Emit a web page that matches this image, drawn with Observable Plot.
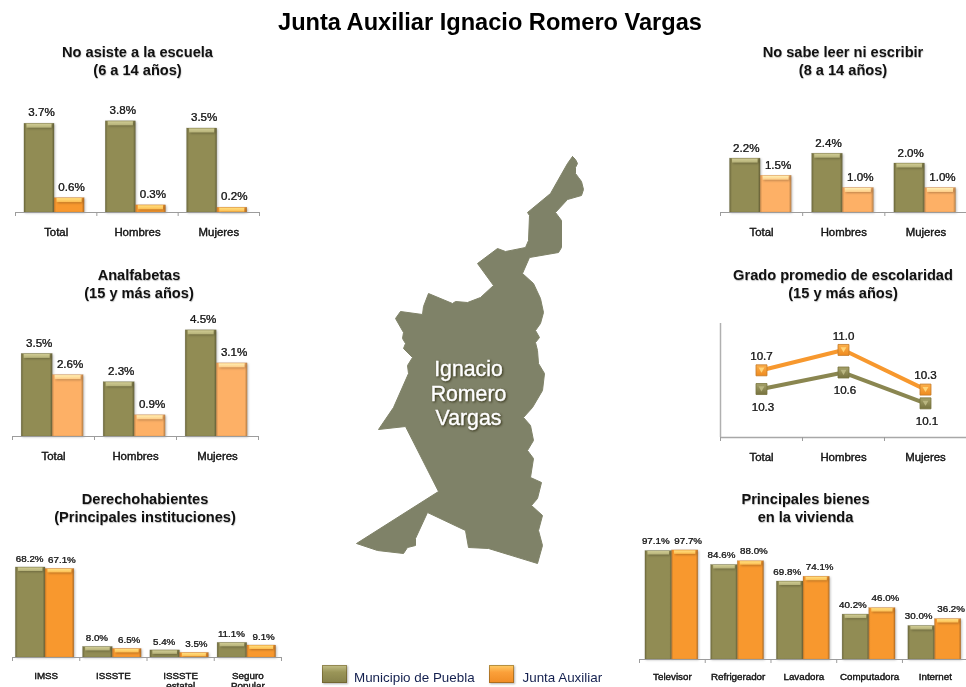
<!DOCTYPE html>
<html lang="es">
<head>
<meta charset="utf-8">
<script src="https://cdn.jsdelivr.net/npm/d3@7"></script>
<script src="https://cdn.jsdelivr.net/npm/@observablehq/plot@0.6"></script>
<style>
html,body{margin:0;padding:0;background:#fff;overflow:hidden}
#page{position:relative;width:966px;height:687px;overflow:hidden;font-family:"Liberation Sans",Arial,sans-serif;filter:blur(.4px)}
.h{position:absolute;text-align:center;font-weight:bold;color:#111;width:320px;font-size:14.6px;line-height:18px;text-shadow:.5px .5px 1px rgba(0,0,0,.25)}
#title{position:absolute;left:0;width:980px;top:8px;text-align:center;font-weight:bold;font-size:23.6px;line-height:28px;color:#000}
.sw{position:absolute;width:25px;height:18px;top:665px;box-shadow:inset 0 0 0 1px rgba(90,70,20,.45),1px 1px 2px rgba(0,0,0,.3)}
.lg{position:absolute;top:670px;font-size:13.4px;line-height:16px;color:#14204f}
#page svg{position:absolute;overflow:visible}
svg g[aria-label="rect"]{filter:drop-shadow(1px 1px 1px rgba(0,0,0,.25))}
svg g[aria-label="text"]{stroke:#1a1a1a;stroke-width:.22px;filter:drop-shadow(.4px .4px .5px rgba(0,0,0,.35))}
svg g[aria-label="x-axis tick label"]{stroke:#1a1a1a;stroke-width:.3px;filter:drop-shadow(.5px .5px .5px rgba(0,0,0,.4))}
</style>
</head>
<body>
<svg width="0" height="0" style="position:absolute">
<defs>
<linearGradient id="olive"><stop offset="0" stop-color="#6c683c"/><stop offset=".08" stop-color="#918c54"/><stop offset=".92" stop-color="#918c54"/><stop offset="1" stop-color="#66623a"/></linearGradient>
<linearGradient id="orange"><stop offset="0" stop-color="#c47a28"/><stop offset=".07" stop-color="#f8982e"/><stop offset=".92" stop-color="#f8982e"/><stop offset="1" stop-color="#b06c24"/></linearGradient>
<linearGradient id="peach"><stop offset="0" stop-color="#c78a4c"/><stop offset=".07" stop-color="#fdb066"/><stop offset=".92" stop-color="#fdb066"/><stop offset="1" stop-color="#b9824a"/></linearGradient>
<linearGradient id="oliveTop" x2="0" y2="1"><stop offset="0" stop-color="#d0cc94"/><stop offset="1" stop-color="#b5b178"/></linearGradient>
<linearGradient id="orangeTop" x2="0" y2="1"><stop offset="0" stop-color="#ffe080"/><stop offset="1" stop-color="#fdbc50"/></linearGradient>
<linearGradient id="peachTop" x2="0" y2="1"><stop offset="0" stop-color="#fff0b4"/><stop offset="1" stop-color="#fecb86"/></linearGradient>
<linearGradient id="oliveSq" x2="0" y2="1"><stop offset="0" stop-color="#a5a16a"/><stop offset="1" stop-color="#77733f"/></linearGradient>
<linearGradient id="orangeSq" x2="0" y2="1"><stop offset="0" stop-color="#fcb04c"/><stop offset="1" stop-color="#ee8a1e"/></linearGradient>
</defs>
</svg>
<div id="page">
<div id="title">Junta Auxiliar Ignacio Romero Vargas</div>
</div>
<script>
// ---- data ----
const edades = ["Total", "Hombres", "Mujeres"];
const noAsisteMunicipio = [3.7, 3.8, 3.5];
const noAsisteJunta = [0.6, 0.3, 0.2];
const analfabetasMunicipio = [3.5, 2.3, 4.5];
const analfabetasJunta = [2.6, 0.9, 3.1];
const noSabeMunicipio = [2.2, 2.4, 2.0];
const noSabeJunta = [1.5, 1.0, 1.0];
const escolaridadMunicipio = [10.33, 10.63, 10.07];
const escolaridadJunta = [10.67, 11.04, 10.32];
const instituciones = ["IMSS", "ISSSTE", "ISSSTE\nestatal", "Seguro\nPopular"];
const derechoMunicipio = [68.2, 8.0, 5.4, 11.1];
const derechoJunta = [67.1, 6.5, 3.5, 9.1];
const bienes = ["Televisor", "Refrigerador", "Lavadora", "Computadora", "Internet"];
const bienesMunicipio = [97.1, 84.6, 69.8, 40.2, 30.0];
const bienesJunta = [97.7, 88.0, 74.1, 46.0, 36.2];
// outline of the locality
const mapaX = [572,575,577,575,575,578,581,583,581,567,555,561,561,558,529,522,533,540,543,540,535,539,535,537,538,544,542,532,523,530,533,527,533,530,541,537,531,542,538,542,537,488,468,465,427,415,415,407,403,377,356,438,405,378,393,408,407,412,403,405,402,403,395,400,422,423,428,452,455,467,480,493,477,497,505,525,528,529,527,550,567];
const mapaY = [156,159,163,167,173,177,181,189,195,199,212,220,247,252,257,273,283,298,312,323,330,337,342,350,363,373,390,407,417,425,440,450,458,477,482,498,505,515,530,545,563,548,547,530,512,538,545,547,553,550,543,491,426,429,407,373,365,357,348,343,338,332,318,311,314,306,293,303,301,302,297,285,263,248,251,247,240,215,212,193,163];
const mapaNombre = "Ignacio\nRomero\nVargas";

const fam = '"Liberation Sans",Arial,sans-serif';
const pctF = d3.format(".1f");
const page = document.getElementById("page");

function heading(center, top, text) {
  const d = document.createElement("div");
  d.className = "h";
  d.style.left = (center - 160) + "px";
  d.style.top = top + "px";
  d.innerHTML = text;
  page.appendChild(d);
}

function barPanel(o) {
  const {cats, a, b, left, right, base, perUnit, offs, peach, valSize, catSize, dy, dxA, dxB, hi, catPad} = o;
  const rows = (vals, s) => vals.map((value, i) => ({i, value, s}));
  const ra = rows(a, 0), rb = rows(b, 1);
  const top = base - 130, mB = 32, mL = 10, mR = 10;
  const w = right - left + mL + mR, h = base - top + mB;
  const orangeName = peach ? "peach" : "orange";
  const bars = (data, s, fill, stroke) => [
    Plot.rect(data, {x1: d => d.i + offs[s], x2: d => d.i + offs[s + 1], y1: 0, y2: "value", fill: `url(#${fill})`, stroke, strokeWidth: .5, strokeOpacity: .4}),
    Plot.rect(data, {x1: d => d.i + offs[s], x2: d => d.i + offs[s + 1], y1: "value", y2: "value", insetLeft: 2.5, insetRight: 2.5, insetTop: .5, insetBottom: -hi, fill: `url(#${fill}Top)`})
  ];
  const p = Plot.plot({
    width: w, height: h, marginTop: 0, marginBottom: mB, marginLeft: mL, marginRight: mR,
    style: {fontFamily: fam, left: (left - mL) + "px", top: top + "px", background: "none", maxWidth: "none"},
    x: {type: "linear", domain: [0, cats.length], axis: null},
    y: {domain: [0, 130 / perUnit], axis: null},
    marks: [
      ...bars(ra, 0, "olive", "#5d5930"),
      ...bars(rb, 1, orangeName, "#a56a2a"),
      Plot.ruleY([0], {stroke: "#9c9c9c", strokeWidth: 1.2}),
      Plot.axisX({ticks: d3.range(cats.length + 1), tickFormat: () => "", tickSize: 4, stroke: "#9c9c9c", label: null}),
      Plot.axisX({ticks: cats.map((c, i) => i + .5), tickFormat: t => cats[t - .5], tickSize: 0, tickPadding: catPad, fontSize: catSize, lineHeight: 1, fill: "#1a1a1a", label: null}),
      Plot.text(ra, {x: d => d.i + (offs[0] + offs[1]) / 2, y: "value", text: d => pctF(d.value) + "%", dy, dx: dxA, fontSize: valSize, fill: "#1a1a1a"}),
      Plot.text(rb, {x: d => d.i + (offs[1] + offs[2]) / 2, y: "value", text: d => pctF(d.value) + "%", dy, dx: dxB, fontSize: valSize, fill: "#1a1a1a"})
    ]
  });
  page.appendChild(p);
}

heading(137.5, 43, "No asiste a la escuela<br>(6 a 14 años)");
heading(139, 266, "Analfabetas<br>(15 y más años)");
heading(145, 490, "Derechohabientes<br>(Principales instituciones)");
heading(843, 43, "No sabe leer ni escribir<br>(8 a 14 años)");
heading(843, 266, "Grado promedio de escolaridad<br>(15 y más años)");
heading(805.5, 490, "Principales bienes<br>en la vivienda");

barPanel({cats: edades, a: noAsisteMunicipio, b: noAsisteJunta, left: 15, right: 259, base: 212, perUnit: 24, offs: [.11, .48, .85], valSize: 11.6, catSize: 11.4, dy: -11, dxA: 2, dxB: 2, hi: 4.5, catPad: 15});
barPanel({cats: edades, a: analfabetasMunicipio, b: analfabetasJunta, left: 12, right: 258, base: 435.5, perUnit: 23.6, offs: [.112, .49, .867], peach: true, valSize: 11.6, catSize: 11.4, dy: -11, dxA: 2, dxB: 2, hi: 4.5, catPad: 15});
barPanel({cats: edades, a: noSabeMunicipio, b: noSabeJunta, left: 720, right: 966.5, base: 212, perUnit: 24.5, offs: [.116, .488, .866], peach: true, valSize: 11.6, catSize: 11.4, dy: -10.5, dxA: 1, dxB: 2, hi: 4.5, catPad: 15});
barPanel({cats: instituciones, a: derechoMunicipio, b: derechoJunta, left: 12, right: 281, base: 657, perUnit: 1.32, offs: [.05, .49, .92], valSize: 9.8, catSize: 9.8, dy: -9, dxA: -1, dxB: 2, hi: 4, catPad: 15});
barPanel({cats: bienes, a: bienesMunicipio, b: bienesJunta, left: 639.3, right: 968, base: 659, perUnit: 1.117, offs: [.09, .495, .895], valSize: 9.8, catSize: 9.8, dy: -10, dxA: -3, dxB: 3, hi: 4, catPad: 14});

// line panel
(function () {
  const left = 720, right = 966, base = 437, top = 323, mL = 10, mR = 10, mB = 32;
  const mk = (vals) => vals.map((value, i) => ({i, value}));
  const m = mk(escolaridadMunicipio), j = mk(escolaridadJunta);
  const X = d => d.i + .5;
  page.appendChild(Plot.plot({
    width: right - left + mL + mR, height: base - top + mB, marginTop: 0, marginBottom: mB, marginLeft: mL, marginRight: mR,
    style: {fontFamily: fam, left: (left - mL) + "px", top: top + "px", background: "none", maxWidth: "none"},
    x: {type: "linear", domain: [0, 3], axis: null},
    y: {domain: [9.45, 11.52], axis: null},
    marks: [
      Plot.ruleY([9.45], {stroke: "#a8a8a8", strokeWidth: 1.5}),
      Plot.ruleX([0], {stroke: "#b0b0b0", strokeWidth: 1.5}),
      Plot.axisX({ticks: [0, 1, 2, 3], tickFormat: () => "", tickSize: 4, stroke: "#9c9c9c", label: null}),
      Plot.axisX({ticks: [.5, 1.5, 2.5], tickFormat: t => edades[t - .5], tickSize: 0, tickPadding: 15, fontSize: 11.4, fill: "#1a1a1a", label: null}),
      Plot.line(m, {x: X, y: "value", stroke: "#8a8650", strokeWidth: 4}),
      Plot.line(j, {x: X, y: "value", stroke: "#f7982e", strokeWidth: 4}),
      Plot.dot(m, {x: X, y: "value", symbol: "square", r: 6.2, fill: "url(#oliveSq)", stroke: "#77733f", strokeWidth: .8}),
      Plot.dot(j, {x: X, y: "value", symbol: "square", r: 6.2, fill: "url(#orangeSq)", stroke: "#c47a28", strokeWidth: .8}),
      Plot.dot(m, {x: X, y: "value", symbol: "triangle", rotate: 180, r: 2.2, dy: -1, fill: "#b9b580"}),
      Plot.dot(j, {x: X, y: "value", symbol: "triangle", rotate: 180, r: 2.2, dy: -1, fill: "#ffd478"}),
      Plot.text(j, {x: X, y: "value", text: d => pctF(d.value), dy: -14, fontSize: 11.6, fill: "#1a1a1a"}),
      Plot.text(m, {x: X, y: "value", text: d => pctF(d.value), dy: 18, dx: 1.5, fontSize: 11.6, fill: "#1a1a1a"})
    ]
  }));
})();

// locality map: map units equal the picture's own pixels
(function () {
  const pts = mapaX.map((x, i) => ({x, y: mapaY[i]}));
  const svg = Plot.plot({
    width: 260, height: 420, margin: 0,
    style: {fontFamily: fam, left: "340px", top: "145px", background: "none", maxWidth: "none"},
    x: {type: "linear", domain: [340, 600], axis: null},
    y: {type: "linear", domain: [565, 145], axis: null},
    marks: [
      Plot.line(pts.concat(pts[0]), {x: "x", y: "y", fill: "#7f8268", stroke: "#7f8268", strokeWidth: 1, strokeLinejoin: "round", curve: "linear"}),
      Plot.text([mapaNombre], {x: () => 468, y: () => 392.5, text: d => d, fill: "#fff", fontSize: 21.3, lineHeight: 1.15})
    ]
  });
  const t = svg.querySelector('g[aria-label="text"]');
  if (t) { t.style.filter = "drop-shadow(1px 1.5px 1.2px rgba(30,25,0,.75))"; t.style.stroke = "#fff"; t.style.strokeWidth = ".4px"; }
  page.appendChild(svg);
})();

// legend
[["olive", 322, "Municipio de Puebla", 354], ["orange", 489, "Junta Auxiliar", 522.5]].forEach(([g, sx, txt, tx]) => {
  const s = document.createElement("div");
  s.className = "sw";
  s.style.left = sx + "px";
  s.style.background = g === "olive" ? "linear-gradient(#c4c088,#9a9558 40%,#86814a)" : "linear-gradient(#ffcf6a,#fba03a 40%,#f08c24)";
  page.appendChild(s);
  const l = document.createElement("div");
  l.className = "lg";
  l.style.left = tx + "px";
  l.textContent = txt;
  page.appendChild(l);
});
</script>
</body>
</html>
